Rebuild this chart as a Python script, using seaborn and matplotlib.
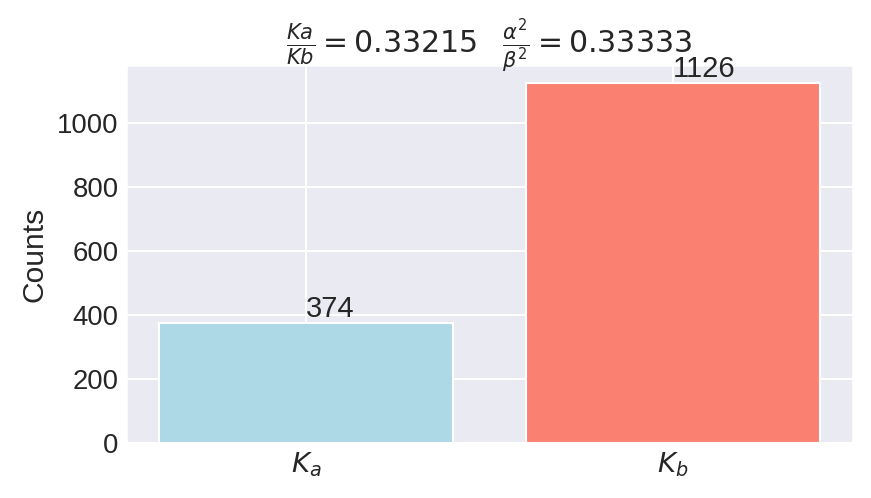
import matplotlib
matplotlib.use("Agg")
import matplotlib.pyplot as plt
import seaborn as sns

labels = [r'$K_a$', r'$K_b$']
counts = [374, 1126]
colors = ['lightblue', 'salmon']
ratio_k = 0.33215
ratio_ab = 0.33333

sns.set_theme(style='darkgrid', font_scale=1.2)
plt.rcParams['font.family'] = ['sans-serif']
plt.rcParams['font.sans-serif'] = ['Liberation Sans', 'DejaVu Sans']
plt.rcParams['xtick.major.size'] = 0
plt.rcParams['ytick.major.size'] = 0

fig, ax = plt.subplots(figsize=(871 / 150, 498 / 150), dpi=150)
fig.subplots_adjust(left=0.1447, right=0.979, top=0.8695, bottom=0.1104)

xs = list(range(len(labels)))
ax.bar(xs, counts, color=colors)
for x, c in zip(xs, counts):
    ax.text(x, c, str(c), va='bottom', fontsize=14)

ax.set_xticks(xs)
ax.set_xticklabels(labels)
ax.set_ylabel('Counts')
ax.set_title(r'$\frac{Ka}{Kb}=%.5f$   $\frac{\alpha^2}{\beta^2}=%.5f$' % (ratio_k, ratio_ab))

fig.savefig('out.png', dpi=150)
